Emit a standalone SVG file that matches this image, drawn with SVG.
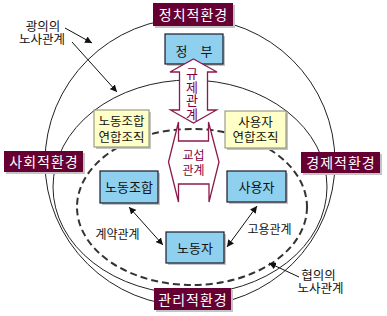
<svg xmlns="http://www.w3.org/2000/svg" width="387" height="316" viewBox="0 0 387 316">
<style>
text{font-family:"Noto Sans CJK KR","Noto Sans",sans-serif;}
.env{fill:#660033;}
.envt{fill:#fff;font-size:14px;letter-spacing:1px;text-anchor:middle;}
.sh{fill:#c4c4c4;}
.blue{fill:#8fd0ef;stroke:#1a1a2a;stroke-width:1.2;}
.yel{fill:#ffffc8;stroke:#8a8a70;stroke-width:1;}
.bt{fill:#111;font-size:13px;text-anchor:middle;}
.yt{fill:#111;font-size:12.5px;text-anchor:middle;}
.lbl{fill:#111;font-size:12px;text-anchor:middle;}
.ring{fill:none;stroke:#222;stroke-width:1;}
.dash{fill:none;stroke:#333;stroke-width:2;stroke-dasharray:7 4;}
.big{fill:#fff;stroke:#8b1a4a;stroke-width:1.3;stroke-linejoin:miter;}
.mt{fill:#800040;font-size:13px;text-anchor:middle;}
.vt{writing-mode:vertical-rl;text-orientation:upright;letter-spacing:0.8px;}
.con{fill:none;stroke:#111;stroke-width:1;}
</style>
<defs>
<marker id="ah" viewBox="0 0 10 10" refX="10" refY="5" markerWidth="7" markerHeight="7" markerUnits="userSpaceOnUse" orient="auto-start-reverse">
<path d="M0,0 L10,5 L0,10 Z" fill="#111"/>
</marker>
</defs>
<rect width="387" height="316" fill="#fff"/>
<g id="rings">
<ellipse class="ring" cx="190" cy="162" rx="145" ry="144"/>
<ellipse class="ring" cx="190" cy="187" rx="137" ry="107"/>
<ellipse class="dash" cx="192" cy="207" rx="115" ry="78"/>
</g>
<g id="env-politics"><rect class="sh" x="155" y="5" width="80" height="23"/><rect class="env" x="153" y="3" width="80" height="23"/><text class="envt" x="193.5" y="20">정치적환경</text></g>
<g id="env-social"><rect class="sh" x="6" y="153" width="79" height="21"/><rect class="env" x="4" y="151" width="79" height="21"/><text class="envt" x="44" y="167">사회적환경</text></g>
<g id="env-economic"><rect class="sh" x="303" y="154" width="79" height="21"/><rect class="env" x="301" y="152" width="79" height="21"/><text class="envt" x="341" y="167.5">경제적환경</text></g>
<g id="env-management"><rect class="sh" x="156" y="290" width="77" height="22"/><rect class="env" x="154" y="288" width="77" height="22"/><text class="envt" x="193" y="304.5">관리적환경</text></g>
<g id="gov"><rect class="sh" x="167" y="36" width="58" height="30"/><rect class="blue" x="165" y="34" width="58" height="30"/><text class="bt" x="196.5" y="55.5" style="letter-spacing:5px" xml:space="preserve">정 부</text></g>
<g id="union-fed"><rect class="sh" x="96" y="112" width="55" height="37"/><rect class="yel" x="94" y="110" width="55" height="37"/><text class="yt" x="121.5" y="125.5">노동조합</text><text class="yt" x="121.5" y="142">연합조직</text></g>
<g id="employer-fed"><rect class="sh" x="227" y="113" width="61" height="37"/><rect class="yel" x="225" y="111" width="61" height="37"/><text class="yt" x="255.5" y="126.5">사용자</text><text class="yt" x="255.5" y="142">연합조직</text></g>
<g id="union"><rect class="sh" x="102" y="173" width="58" height="32"/><rect class="blue" x="100" y="171" width="58" height="32"/><text class="bt" x="129" y="192">노동조합</text></g>
<g id="employer"><rect class="sh" x="229" y="173" width="59" height="31"/><rect class="blue" x="227" y="171" width="59" height="31"/><text class="bt" x="256.5" y="191.5">사용자</text></g>
<g id="worker"><rect class="sh" x="168" y="234" width="58" height="31"/><rect class="blue" x="166" y="232" width="58" height="31"/><text class="bt" x="195" y="252.5">노동자</text></g>
<g id="regulation">
<path class="big" d="M193.5,59 L217,72 L207.5,72 L207.5,110 L216.5,110 L193.5,123 L170.5,110 L179.5,110 L179.5,72 L170,72 Z"/>
<text class="mt vt" x="192" y="94">규제관계</text>
</g>
<g id="bargaining">
<path class="big" d="M178.5,122 L178.5,141 L208.5,141 L208.5,122 L219,162 L209,202 L209,184 L178.5,184 L178.5,202 L168.5,162 Z"/>
<text class="mt" x="193.5" y="159.5" style="font-size:12px">교섭</text>
<text class="mt" x="193.5" y="174.5" style="font-size:12px">관계</text>
</g>
<g id="connectors">
<line class="con" x1="65" y1="28" x2="92" y2="43" marker-end="url(#ah)"/>
<line class="con" x1="72" y1="42" x2="117" y2="92" marker-end="url(#ah)"/>
<line class="con" x1="299" y1="277" x2="269" y2="263" marker-end="url(#ah)"/>
<line class="con" x1="129" y1="207" x2="163" y2="245" marker-start="url(#ah)" marker-end="url(#ah)"/>
<line class="con" x1="257" y1="206" x2="227" y2="247" marker-start="url(#ah)" marker-end="url(#ah)"/>
</g>
<g id="labels">
<text class="lbl" x="43" y="31" style="font-size:12.5px">광의의</text>
<text class="lbl" x="42" y="43.5" style="font-size:12.5px">노사관계</text>
<text class="lbl" x="318.5" y="280" style="font-size:12.5px">협의의</text>
<text class="lbl" x="320.5" y="293" style="font-size:12.5px">노사관계</text>
<text class="lbl" x="117.5" y="239">계약관계</text>
<text class="lbl" x="269.5" y="233.5">고용관계</text>
</g>
</svg>
